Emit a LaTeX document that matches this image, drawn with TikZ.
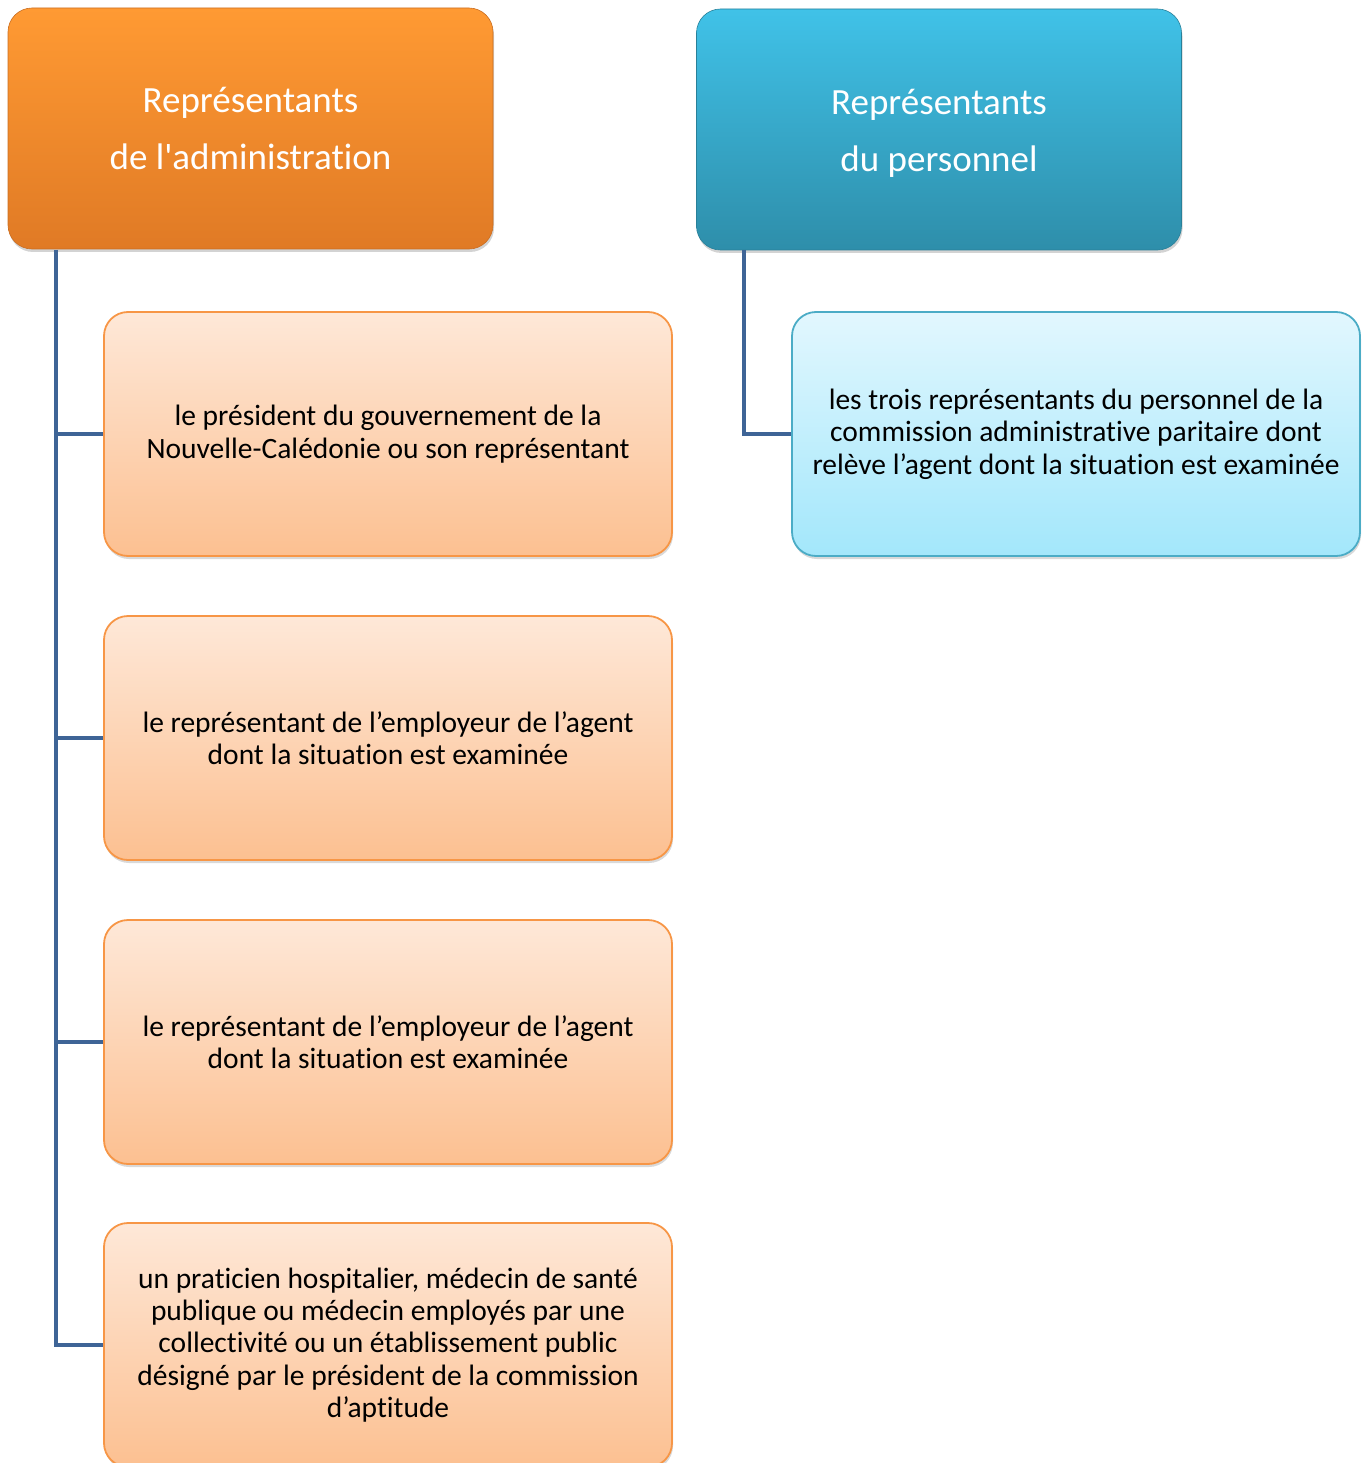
\documentclass[tikz,border=0pt]{standalone}
\usepackage{fontspec}
\setmainfont{Carlito}[Ligatures={TeXOff,NoCommon}]
\usetikzlibrary{shadows}
\definecolor{orTop}{HTML}{FF9A33}
\definecolor{orBot}{HTML}{E07A25}
\definecolor{blTop}{HTML}{40C2E8}
\definecolor{blBot}{HTML}{2E8EAA}
\definecolor{lorTop}{HTML}{FEE8D8}
\definecolor{lorBot}{HTML}{FCC091}
\definecolor{lorLine}{HTML}{F79646}
\definecolor{lblTop}{HTML}{E2F7FE}
\definecolor{lblBot}{HTML}{A3E7FB}
\definecolor{lblLine}{HTML}{4BACC6}
\definecolor{conn}{HTML}{3E6496}
\begin{document}
\begin{tikzpicture}[x=1pt,y=-1pt,
  head/.style={rounded corners=24pt, minimum width=485pt, minimum height=241pt,
    text=white, align=center, font=\fontsize{37}{57}\selectfont,
    drop shadow={opacity=0.35, shadow xshift=1pt, shadow yshift=-3pt}},
  headA/.style={head, top color=orTop, bottom color=orBot, draw=orBot!90!black, line width=0.6pt},
  headB/.style={head, top color=blTop, bottom color=blBot, draw=blBot!90!black, line width=0.6pt},
  child/.style={rounded corners=24pt, minimum width=568pt, minimum height=244pt,
    align=center, font=\fontsize{29.5}{32.3}\selectfont, line width=1.8pt,
    drop shadow={opacity=0.3, shadow xshift=1pt, shadow yshift=-3pt}},
  childA/.style={child, top color=lorTop, bottom color=lorBot, draw=lorLine},
  childB/.style={child, top color=lblTop, bottom color=lblBot, draw=lblLine},
  link/.style={draw=conn, line width=4pt}
]
\useasboundingbox (0,0) rectangle (1370,1463);

\node[headA] (ha) at (250.5,128.5) {Représentants\\de l'administration};
\node[headB] (hb) at (939,129.5) {\rule{0pt}{33pt}Représentants\\du personnel};

\node[childA] (a1) at (388,434) {le président du gouvernement de la\\Nouvelle-Calédonie ou son représentant};
\node[childA] (a2) at (388,738) {le représentant de l’employeur de l’agent\\dont la situation est examinée};
\node[childA] (a3) at (388,1042) {le représentant de l’employeur de l’agent\\dont la situation est examinée};
\node[childA] (a4) at (388,1345) {un praticien hospitalier, médecin de santé\\publique ou médecin employés par une\\collectivité ou un établissement public\\désigné par le président de la commission\\d’aptitude};

\node[childB] (b1) at (1076,434) {les trois représentants du personnel de la\\commission administrative paritaire dont\\relève l’agent dont la situation est examinée};

\coordinate (la) at (56,250);
\coordinate (lb) at (744,250);

\draw[link] (la) |- (a4.west);
\draw[link] (la |- a1.west) -- (a1.west);
\draw[link] (la |- a2.west) -- (a2.west);
\draw[link] (la |- a3.west) -- (a3.west);
\draw[link] (lb) |- (b1.west);
\end{tikzpicture}
\end{document}
